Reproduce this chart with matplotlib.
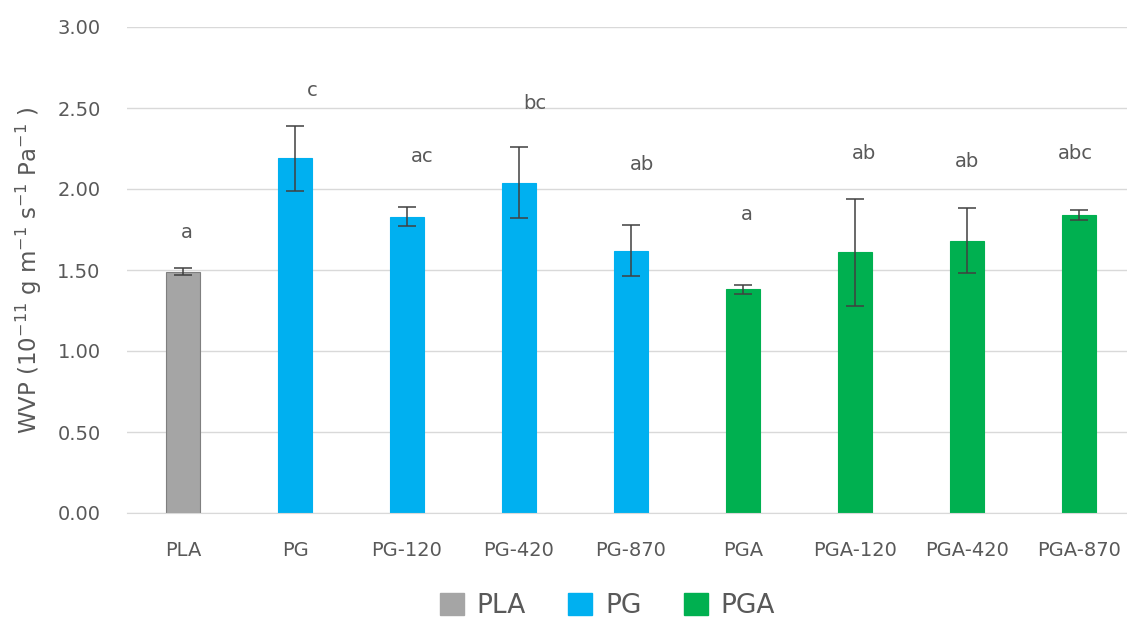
import numpy as np
import matplotlib.pyplot as plt
from matplotlib.patches import Patch

# WVP of the films (mean and std dev), with significance letters
samples = ["PLA", "PG", "PG-120", "PG-420", "PG-870",
           "PGA", "PGA-120", "PGA-420", "PGA-870"]
groups = ["PLA", "PG", "PG", "PG", "PG", "PGA", "PGA", "PGA", "PGA"]
wvp = [1.49, 2.19, 1.83, 2.04, 1.62, 1.38, 1.61, 1.68, 1.84]
wvp_sd = [0.02, 0.20, 0.06, 0.22, 0.16, 0.03, 0.33, 0.20, 0.03]
letters = ["a", "c", "ac", "bc", "ab", "a", "ab", "ab", "abc"]
letter_y = [1.73, 2.61, 2.20, 2.53, 2.15, 1.84, 2.22, 2.17, 2.22]

group_colors = {"PLA": "#A5A5A5", "PG": "#00B0F0", "PGA": "#00B050"}
text_color = "#595959"

plt.rcParams["font.family"] = ["DejaVu Sans"]

fig = plt.figure(figsize=(11.27, 6.28), dpi=100)
ax = fig.add_axes([127 / 1127, 1 - 513 / 628, 1008 / 1127, 486 / 628])

x = np.arange(len(samples))
colors = [group_colors[g] for g in groups]
edges = ["#7F7F7F" if g == "PLA" else c for g, c in zip(groups, colors)]
ax.bar(x, wvp, width=0.31, color=colors, edgecolor=edges, linewidth=0.8, zorder=2)
ax.errorbar(x, wvp, yerr=wvp_sd, fmt="none", ecolor="#404040",
            elinewidth=1.1, capsize=6.5, capthick=1.1, zorder=3)

# letters sit a little right of the bar centre
offsets = [0.03, 0.15, 0.14, 0.14, 0.10, 0.03, 0.08, 0.0, -0.03]
for xi, dx, yl, lt in zip(x, offsets, letter_y, letters):
    ax.text(xi + dx, yl, lt, ha="center", va="center", fontsize=14, color=text_color)

ax.set_xlim(-0.5, 8.5)
ax.set_ylim(0, 3.0)
ax.set_yticks(np.arange(0, 3.01, 0.5))
ax.set_yticklabels([f"{v:.2f}" for v in np.arange(0, 3.01, 0.5)])
ax.set_xticks(x)
ax.set_xticklabels(samples)
ax.grid(axis="y", color="#D9D9D9", linewidth=1.0, zorder=0)
for s in ["top", "right", "left"]:
    ax.spines[s].set_visible(False)
ax.spines["bottom"].set_color("#D9D9D9")
ax.tick_params(axis="both", length=0, labelsize=14, labelcolor=text_color)
ax.tick_params(axis="y", pad=19)
ax.tick_params(axis="x", pad=20)

ax.set_ylabel(r"WVP (10$^{-11}$ g m$^{-1}$ s$^{-1}$ Pa$^{-1}$ )",
              fontsize=16.5, color=text_color)
ax.yaxis.set_label_coords(-0.082, 0.5)

handles = [Patch(facecolor=group_colors[g], edgecolor=group_colors[g]) for g in ["PLA", "PG", "PGA"]]
fig.legend(handles, ["PLA", "PG", "PGA"], loc="center", bbox_to_anchor=(0.539, 0.035),
           ncol=3, frameon=False, fontsize=19, labelcolor=text_color,
           handlelength=0.9, handleheight=0.9, handletextpad=0.5, columnspacing=1.6)

fig.savefig("out.png", dpi=100)
